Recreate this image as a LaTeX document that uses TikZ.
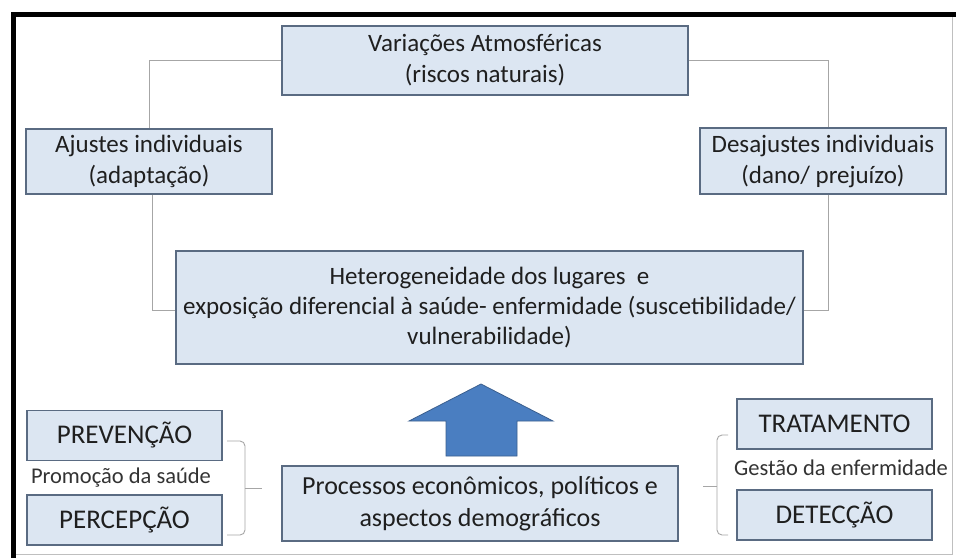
\documentclass[tikz,border=0pt]{standalone}
\usepackage{fontspec}
\setmainfont{Carlito}
\definecolor{boxfill}{HTML}{DCE6F2}
\definecolor{boxline}{HTML}{5A6B82}
\definecolor{linkgray}{HTML}{A6A6A6}
\definecolor{arrowblue}{HTML}{4A7EC1}
\definecolor{arrowline}{HTML}{3B5F8E}
\begin{document}
\begin{tikzpicture}[x=1pt,y=-1pt]

    \tikzset{
      box/.style={
        draw=boxline,
        fill=boxfill,
        line width=1.3pt,
        align=center,
        inner sep=0pt,
        text=black!88,
        font=\fontsize{25}{31}\selectfont,
      },
      capbox/.style={
        box,
        font=\fontsize{27}{31}\selectfont,
        minimum width=195pt,
        minimum height=50pt,
      },
      link/.style={draw=linkgray, line width=0.9pt},
      brc/.style={link, rounded corners=5pt},
      note/.style={text=black!80, inner sep=0pt, font=\fontsize{22.5}{26}\selectfont},
    }
    \useasboundingbox (0,0) rectangle (956,558);
    \fill[white] (0,0) rectangle (956,558);
    \draw[black, line width=5pt] (13.5,14.5) -- (956,14.5);
    \draw[black, line width=5pt] (13.5,12) -- (13.5,558);
    \draw[black!25, line width=1pt] (952,17) -- (952,554) -- (16,554);

	\node[box, minimum width=406pt, minimum height=69pt] (atmo) at (485,60.5) {Variações Atmosféricas\\(riscos naturais)};
	\node[box, minimum width=246pt, minimum height=65pt] (ajuste) at (149,161.5) {Ajustes individuais\\(adaptação)};
	\node[box, minimum width=246pt, minimum height=66pt] (desajuste) at (823,161) {Desajustes individuais\\(dano/ prejuízo)};
	\node[box, minimum width=627pt, minimum height=113pt, font=\fontsize{25}{30}\selectfont] (hetero) at (489.5,307.5) {Heterogeneidade dos lugares\ \ e\\exposição diferencial à saúde- enfermidade (suscetibilidade/\\vulnerabilidade)};
	\node[box, minimum width=396pt, minimum height=75pt, font=\fontsize{26}{32}\selectfont] (processos) at (480,503.5) {Processos econômicos, políticos e\\aspectos demográficos};
	\node[capbox] (prevencao) at (124.5,435.5) {PREVENÇÃO};
	\node[capbox] (percepcao) at (124.5,520) {PERCEPÇÃO};
	\node[capbox] (tratamento) at (834.5,424) {TRATAMENTO};
	\node[capbox] (deteccao) at (834.5,515) {DETECÇÃO};
	\node[note] (promocao) at (121,478) {Promoção da saúde};
	\node[note] (gestao) at (841,468) {Gestão da enfermidade};

	\draw[link] (atmo.west) -| (ajuste.north);
	\draw[link] (atmo.east) -| ([xshift=5pt]desajuste.north);
	\draw[link] ([xshift=3pt]ajuste.south) |- ([yshift=-3pt]hetero.west);
	\draw[link] ([xshift=5pt]desajuste.south) |- ([yshift=-3pt]hetero.east);

	\coordinate (promotop) at (227,441);
	\coordinate (promobot) at (227,535);
	\coordinate (promotip) at (262,488);
	\coordinate (gestaotop) at (728,435);
	\coordinate (gestaobot) at (728,535);
	\coordinate (gestaotip) at (703,486);
	\draw[brc] (promotop) -| ([xshift=-17pt]promotip) |- (promobot);
	\draw[link] ([xshift=-17pt]promotip) -- (promotip);
	\draw[brc] (gestaotop) -| ([xshift=14pt]gestaotip) |- (gestaobot);
	\draw[link] ([xshift=14pt]gestaotip) -- (gestaotip);

	\filldraw[fill=arrowblue, draw=arrowline, line width=0.8pt] (446,456) -- (446,421) -- (409,421) -- (481,384) -- (553,421) -- (517,421) -- (517,456) -- cycle;

\end{tikzpicture}
\end{document}
